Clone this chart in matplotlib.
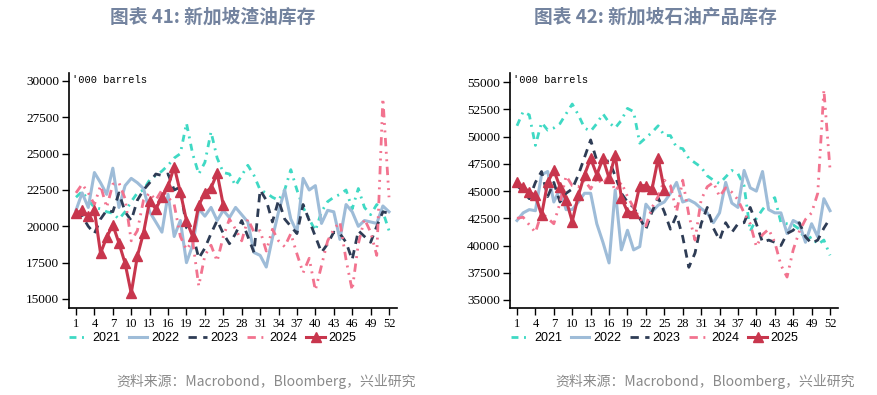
import numpy as np
import matplotlib
matplotlib.use("Agg")
import matplotlib.pyplot as plt

plt.rcParams['font.family'] = ['Noto Sans CJK SC', 'DejaVu Sans']

# weekly inventories, '000 barrels
weeks = list(range(1, 53))
years = ['2021', '2022', '2023', '2024', '2025']

fo_2021 = [22000, 22400, 21800, 21300, 21200, 21000, 20900, 20500, 21000, 21700, 22300, 22500, 23200,
           23500, 23800, 24200, 24700, 25000, 27100, 25000, 23600, 24400, 26500, 24700, 23700, 23600,
           22800, 23500, 24200, 23500, 22500, 22300, 22000, 21800, 22500, 23900, 22500, 21300, 20500,
           19700, 21000, 21700, 22000, 22200, 22500, 21200, 22600, 21300, 20800, 21500, 21000, 19700]
fo_2022 = [21100, 22300, 21300, 23700, 23000, 22200, 24000, 21300, 22800, 23300, 23000, 22600, 21000,
           20300, 19600, 22200, 19300, 20400, 17500, 18700, 21200, 20700, 21300, 20400, 21100, 20600,
           21300, 20800, 20300, 18200, 18000, 17200, 19200, 21000, 22500, 20500, 19600, 23300, 22500,
           22800, 20200, 21100, 21000, 19100, 21500, 21000, 20000, 20400, 20300, 20200, 21400, 21000]
fo_2023 = [21000, 20700, 20000, 19500, 20500, 21100, 21000, 22300, 21000, 20400, 21800, 22500, 23000,
           23600, 23500, 23600, 22500, 22700, 19900, 19500, 17800, 18500, 19500, 20400, 19500, 18800,
           19500, 20400, 19300, 18200, 22500, 21800, 20300, 21800, 20500, 20000, 19500, 21500, 20400,
           19300, 18200, 18800, 19600, 19500, 18900, 17700, 19700, 19300, 18900, 20000, 21000, 20900]
fo_2024 = [22300, 22900, 22300, 21500, 22800, 21300, 22900, 23000, 21900, 19000, 19700, 21800, 22300,
           21800, 22500, 22000, 21500, 19300, 18400, 19000, 15900, 18000, 18700, 17600, 19300, 20500,
           19800, 19000, 20500, 19600, 19700, 18300, 19800, 19000, 18600, 19500, 18100, 16800, 17800,
           15600, 17300, 19000, 19800, 20300, 17700, 15600, 18800, 20500, 19600, 18000, 28800, 22000]
fo_2025 = [20900, 21100, 20700, 21100, 18150, 19250, 20100, 18850, 17450, 15400, 17950, 19550, 21750,
           21200, 22000, 22750, 24100, 22350, 20400, 19300, 21450, 22300, 22650, 23650, 21450]

lp_2021 = [51000, 52300, 52000, 49200, 51300, 50600, 50800, 51200, 52100, 53000, 52000, 50800, 50500,
           51200, 52100, 51300, 50800, 51500, 52600, 52300, 49400, 49900, 50400, 51000, 50100, 50100,
           49000, 48900, 48000, 47600, 47200, 46400, 46000, 45700, 46300, 46900, 46600, 45500, 41300,
           42500, 43300, 44000, 44400, 42100, 42000, 41900, 41500, 40500, 40800, 40100, 40500, 39100]
lp_2022 = [42300, 43000, 43300, 43200, 46500, 46800, 44000, 45200, 43300, 43300, 44000, 44800, 44800,
           42000, 40300, 38400, 45100, 39600, 41400, 39600, 39900, 43800, 43100, 43700, 44000, 44800,
           45800, 44000, 44200, 43900, 43400, 43000, 42100, 43000, 45800, 43900, 43500, 46900, 45300,
           45000, 46800, 43300, 43000, 43000, 41100, 42300, 42000, 40300, 42000, 40800, 44300, 43200]
lp_2023 = [45500, 45000, 44300, 45800, 46800, 44500, 45800, 44000, 44800, 45200, 46500, 48100, 49700,
           47800, 47600, 47800, 46400, 44800, 44000, 43500, 42500, 41500, 43100, 44400, 43100, 41500,
           42800, 40800, 38000, 39300, 42000, 43500, 41600, 40500, 42100, 41200, 42000, 42100, 43500,
           42000, 40300, 40500, 40300, 40000, 41100, 41400, 42100, 40800, 40200, 40500, 41600, 42500]
lp_2024 = [42500, 42600, 41900, 41200, 43000, 42500, 42000, 43900, 46400, 45500, 45400, 46000, 45200,
           46200, 45600, 46500, 45000, 45800, 44500, 43500, 42500, 41800, 43500, 44500, 46000, 45500,
           43100, 46000, 42800, 40500, 44200, 45400, 45800, 44500, 45300, 44900, 44200, 43000, 42000,
           39900, 41000, 41500, 40300, 38200, 37100, 39600, 41300, 42400, 43000, 44800, 54300, 47000]
lp_2025 = [45800, 45400, 44900, 44600, 42800, 45800, 46900, 45400, 44200, 42200, 44600, 46500, 48000,
           46500, 48000, 46200, 48300, 44400, 43100, 43000, 45500, 45500, 45200, 48000, 45100]

colors = ['#3fd9c4', '#9ebcd8', '#2e3c55', '#f2738f', '#c8364d']
dashes = [(2.5, 2, 0.7, 2), None, (3, 2.3), (3, 2, 0.7, 2, 0.7, 2), None]

fig = plt.figure(figsize=(8.78, 3.95), dpi=100)


def draw(rect, series, ylim, yticks, title, tx):
    ax = fig.add_axes(rect)
    for i, (name, vals) in enumerate(zip(years, series)):
        x = weeks[:len(vals)]
        if name == '2025':
            ax.plot(x, vals, color=colors[i], lw=2.2, marker='^', ms=6.5, label=name, zorder=5)
        elif dashes[i] is None:
            ax.plot(x, vals, color=colors[i], lw=2.2, label=name)
        else:
            ln, = ax.plot(x, vals, color=colors[i], lw=2, label=name)
            ln.set_dashes(dashes[i])
    ax.set_xlim(-0.14, 53.3)
    ax.set_ylim(*ylim)
    ax.set_xticks(weeks[::3])
    ax.set_yticks(yticks)
    ax.set_yticklabels([str(v) for v in yticks], family='Liberation Serif', fontsize=9.5)
    ax.set_xticklabels([str(w) for w in weeks[::3]], family='Liberation Serif', fontsize=9)
    ax.tick_params(direction='out', length=5, width=1, pad=2)
    for s in ['top', 'right']:
        ax.spines[s].set_visible(False)
    for s in ['left', 'bottom']:
        ax.spines[s].set_linewidth(1.2)
    fig.text(rect[0] + 0.003, 1 - 80 / 395, "'000 barrels", family='Liberation Mono',
             fontsize=7.5, va='center', ha='left')
    fig.text(tx, 0.957, title, fontsize=13.5, weight='bold', color='#73839f',
             ha='center', va='center')
    fig.legend(*ax.get_legend_handles_labels(), loc='center', bbox_to_anchor=(tx, 0.144),
               ncol=5, frameon=False, handlelength=1.5, columnspacing=0.7,
               handletextpad=0.3, prop={'family': 'Liberation Sans', 'size': 9})
    return ax


draw([69 / 878, 1 - 308 / 395, 328 / 878, 235 / 395],
     [fo_2021, fo_2022, fo_2023, fo_2024, fo_2025],
     (14380, 30550), [15000, 17500, 20000, 22500, 25000, 27500, 30000],
     '图表 41: 新加坡渣油库存', 213 / 878)
draw([510 / 878, 1 - 308 / 395, 328 / 878, 235 / 395],
     [lp_2021, lp_2022, lp_2023, lp_2024, lp_2025],
     (34260, 55850), [35000, 37500, 40000, 42500, 45000, 47500, 50000, 52500, 55000],
     '图表 42: 新加坡石油产品库存', 655 / 878)

src = '资料来源：Macrobond，Bloomberg，兴业研究'
fig.text(116 / 878, 1 - 381 / 395, src, fontsize=10, color='#8a8a8a', va='center')
fig.text(555 / 878, 1 - 381 / 395, src, fontsize=10, color='#8a8a8a', va='center')

fig.savefig('out.png', dpi=100)
